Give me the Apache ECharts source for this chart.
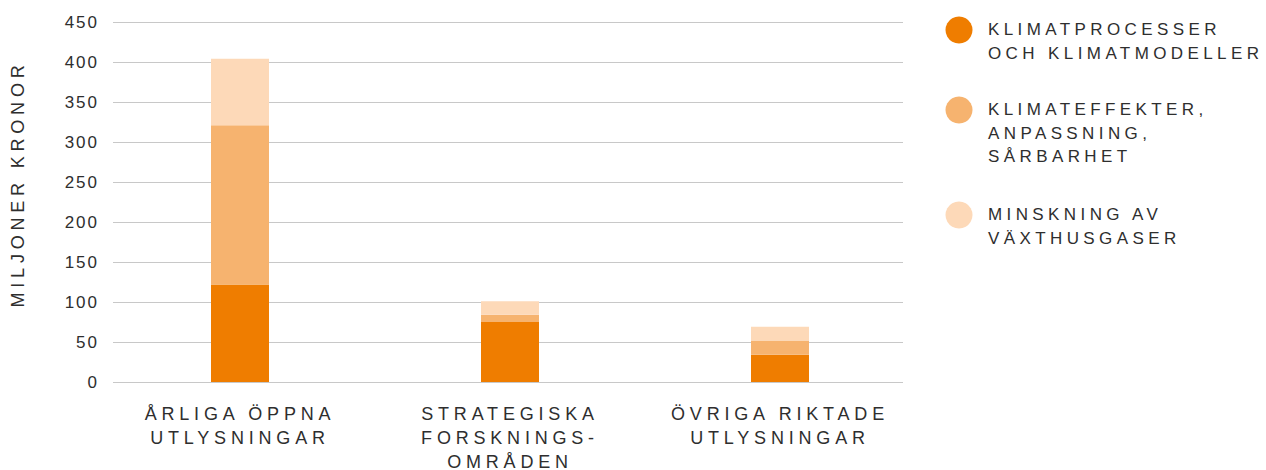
<!DOCTYPE html>
<html>
<head>
<meta charset="utf-8">
<script src="https://cdn.jsdelivr.net/npm/echarts@6/dist/echarts.min.js"></script>
<style>
  html, body { margin: 0; padding: 0; background: #fff; }
  #chart { width: 1266px; height: 470px; }
</style>
</head>
<body>
<div id="chart"></div>
<script>
// data
const categories = ['ÅRLIGA ÖPPNA\nUTLYSNINGAR', 'STRATEGISKA\nFORSKNINGS-\nOMRÅDEN', 'ÖVRIGA RIKTADE\nUTLYSNINGAR']
const seriesNames = ['KLIMATPROCESSER\nOCH KLIMATMODELLER', 'KLIMATEFFEKTER,\nANPASSNING,\nSÅRBARHET', 'MINSKNING AV\nVÄXTHUSGASER']
const klimatprocesser = [122, 75, 34]
const klimateffekter = [199, 9, 18]
const minskning = [83, 17, 17]
const yTitle = 'MILJONER KRONOR'

const colors = ['#ef7d00', '#f6b36f', '#fdd9b8']
const font = "'Liberation Sans', Arial, sans-serif"
const textColor = '#2e2e2e'

let chart = echarts.init(document.getElementById('chart'), null, {renderer: 'svg'})

// legend drawn by hand so the dot lines up with the first text line
const legendTop = [18, 98, 203]
const legendItems = seriesNames.map((name, i) => ({
  type: 'group',
  children: [
    {type: 'circle', shape: {cx: 959, cy: legendTop[i] + 12, r: 13.5}, style: {fill: colors[i]}},
    {type: 'text', x: 988, y: legendTop[i],
      style: {text: name, font: '17px ' + font, fill: textColor, lineHeight: 23.5, verticalAlign: 'top'}}
  ]
}))

let option = {
  animation: false,
  grid: [
    {left: 113, top: 22, width: 790, height: 360, outerBoundsMode: 'none', containLabel: false},
    {left: 105, top: 22, width: 810, height: 360, outerBoundsMode: 'none', containLabel: false}
  ],
  xAxis: [
    {gridIndex: 0, type: 'category', data: categories, show: false},
    {
      gridIndex: 1, type: 'category', data: categories,
      axisLine: {show: false}, axisTick: {show: false},
      axisLabel: {margin: 20, fontSize: 18, fontFamily: font, color: textColor, lineHeight: 24, interval: 0}
    }
  ],
  yAxis: [
    {
      gridIndex: 0, type: 'value', min: 0, max: 450, interval: 50,
      axisLine: {show: false}, axisTick: {show: false},
      splitLine: {lineStyle: {color: '#c8c8c8', width: 1}},
      axisLabel: {margin: 14, fontSize: 17, fontFamily: font, color: textColor}
    },
    {gridIndex: 1, type: 'value', min: 0, max: 450, show: false}
  ],
  graphic: [
    {type: 'text', x: 18, y: 184, rotation: Math.PI / 2,
      style: {text: yTitle, font: '18px ' + font, fill: textColor, align: 'center', verticalAlign: 'middle'}},
    ...legendItems
  ],
  series: [klimatprocesser, klimateffekter, minskning].map((d, i) => ({
    name: seriesNames[i],
    type: 'bar',
    stack: 'total',
    xAxisIndex: 1,
    yAxisIndex: 1,
    barWidth: 58,
    itemStyle: {color: colors[i]},
    data: d
  }))
}

chart.setOption(option)

// letter spacing, the svg renderer lets css do it
const legendLines = seriesNames.join('\n').split('\n')
function spaceLetters() {
  chart.getDom().querySelectorAll('text').forEach(t => {
    let txt = t.textContent.trim()
    let s = 4.8
    if (/^\d+$/.test(txt)) s = 2
    else if (legendLines.includes(txt)) s = 4.4
    t.style.letterSpacing = s + 'px'
  })
}
chart.on('finished', spaceLetters)
setTimeout(spaceLetters, 50)
</script>
</body>
</html>
